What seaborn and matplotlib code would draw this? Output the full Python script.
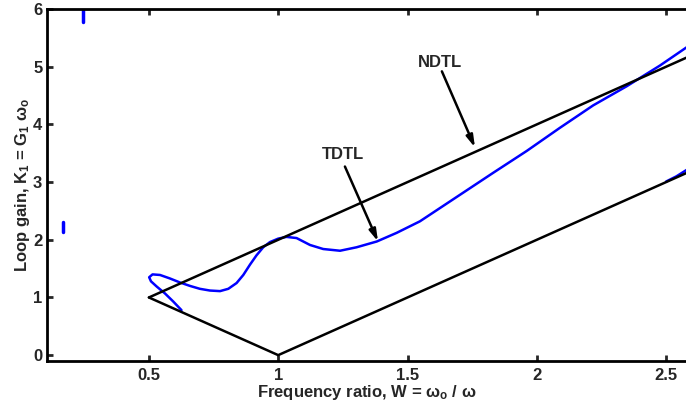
import matplotlib
matplotlib.use('Agg')
import matplotlib.pyplot as plt
import pandas as pd
import seaborn as sns

# NDTL lock boundary (black)
ndtl_upper_w = [0.5, 2.6]
ndtl_upper_k = [1.0, 5.2]
ndtl_lower_w = [0.5, 1.0, 2.6]
ndtl_lower_k = [1.0, 0.0, 3.2]

# TDTL lock boundary (blue), main branch
tdtl_w = [0.626, 0.594, 0.562, 0.530, 0.508, 0.501, 0.514, 0.543, 0.581, 0.620,
          0.659, 0.697, 0.736, 0.775, 0.807, 0.839, 0.865, 0.891, 0.916, 0.942,
          0.968, 1.000, 1.032, 1.071, 1.123, 1.174, 1.239, 1.303, 1.381, 1.458,
          1.548, 1.703, 1.831, 1.961, 2.089, 2.218, 2.347, 2.476, 2.600]
tdtl_k = [0.78, 0.93, 1.07, 1.19, 1.28, 1.35, 1.40, 1.39, 1.33, 1.26,
          1.20, 1.15, 1.12, 1.11, 1.15, 1.25, 1.39, 1.57, 1.73, 1.87,
          1.96, 2.02, 2.05, 2.03, 1.91, 1.84, 1.81, 1.87, 1.97, 2.12,
          2.32, 2.78, 3.16, 3.54, 3.94, 4.33, 4.66, 5.02, 5.40]

# second branch near the right end + two stray pieces
tdtl2_w = [2.500, 2.540, 2.600]
tdtl2_k = [3.01, 3.10, 3.27]
stray1_w = [0.169, 0.169]
stray1_k = [2.13, 2.30]
stray2_w = [0.246, 0.246]
stray2_k = [5.77, 6.10]

sns.set_style('white')
plt.rcParams['font.family'] = ['Liberation Sans', 'DejaVu Sans']
plt.rcParams['font.weight'] = 'bold'
plt.rcParams['mathtext.fontset'] = 'custom'
plt.rcParams['mathtext.rm'] = 'Liberation Sans:bold'
plt.rcParams['mathtext.it'] = 'Liberation Sans'
plt.rcParams['mathtext.bf'] = 'Liberation Sans:bold'

fig = plt.figure(figsize=(6.86, 4.12), dpi=100)
ax = fig.add_axes([0.0678, 0.124, 0.9322, 0.854])

def draw(w, k, color, lw):
    df = pd.DataFrame({'W': w, 'K': k})
    sns.lineplot(data=df, x='W', y='K', sort=False, estimator=None,
                 color=color, lw=lw, ax=ax)

draw(tdtl_w, tdtl_k, '#0000ff', 1.8)
draw(tdtl2_w, tdtl2_k, '#0000ff', 1.8)
draw(stray1_w, stray1_k, '#0000ff', 2.5)
draw(stray2_w, stray2_k, '#0000ff', 2.5)
draw(ndtl_upper_w, ndtl_upper_k, 'black', 1.8)
draw(ndtl_lower_w, ndtl_lower_k, 'black', 1.8)

ax.set_xlim(0.104, 2.577)
ax.set_ylim(-0.1, 6.0)
ax.set_xticks([0.5, 1, 1.5, 2, 2.5])
ax.set_xticklabels(['0.5', '1', '1.5', '2', '2.5'])
ax.set_yticks([0, 1, 2, 3, 4, 5, 6])

for s in ['left', 'bottom', 'top']:
    ax.spines[s].set_linewidth(2)
    ax.spines[s].set_color('black')
ax.spines['right'].set_visible(False)
ax.tick_params(direction='in', length=4, width=2, labelsize=12,
               top=True, bottom=True, left=True, right=False)
ax.tick_params(axis='x', pad=5)
ax.tick_params(axis='y', pad=3)
for lab in ax.get_xticklabels() + ax.get_yticklabels():
    lab.set_fontweight('bold')

ax.set_xlabel(r'Frequency ratio, W = $\omega_{o}$ / $\omega$', fontsize=12,
              fontweight='bold', labelpad=0)
ax.set_ylabel(r'Loop gain, K$_1$ = G$_1$ $\omega_o$', fontsize=12,
              fontweight='bold', labelpad=1)

arrow = dict(arrowstyle='-|>,head_length=0.7,head_width=0.2', lw=1.8,
             color='black', shrinkA=0, shrinkB=0)
ax.annotate('', xy=(1.761, 3.60), xytext=(1.633, 4.92), arrowprops=arrow)
ax.text(1.625, 5.08, 'NDTL', ha='center', va='center', fontsize=12,
        fontweight='bold')
ax.annotate('', xy=(1.386, 1.97), xytext=(1.258, 3.27), arrowprops=arrow)
ax.text(1.250, 3.48, 'TDTL', ha='center', va='center', fontsize=12,
        fontweight='bold')

fig.savefig('out.png', dpi=100)
